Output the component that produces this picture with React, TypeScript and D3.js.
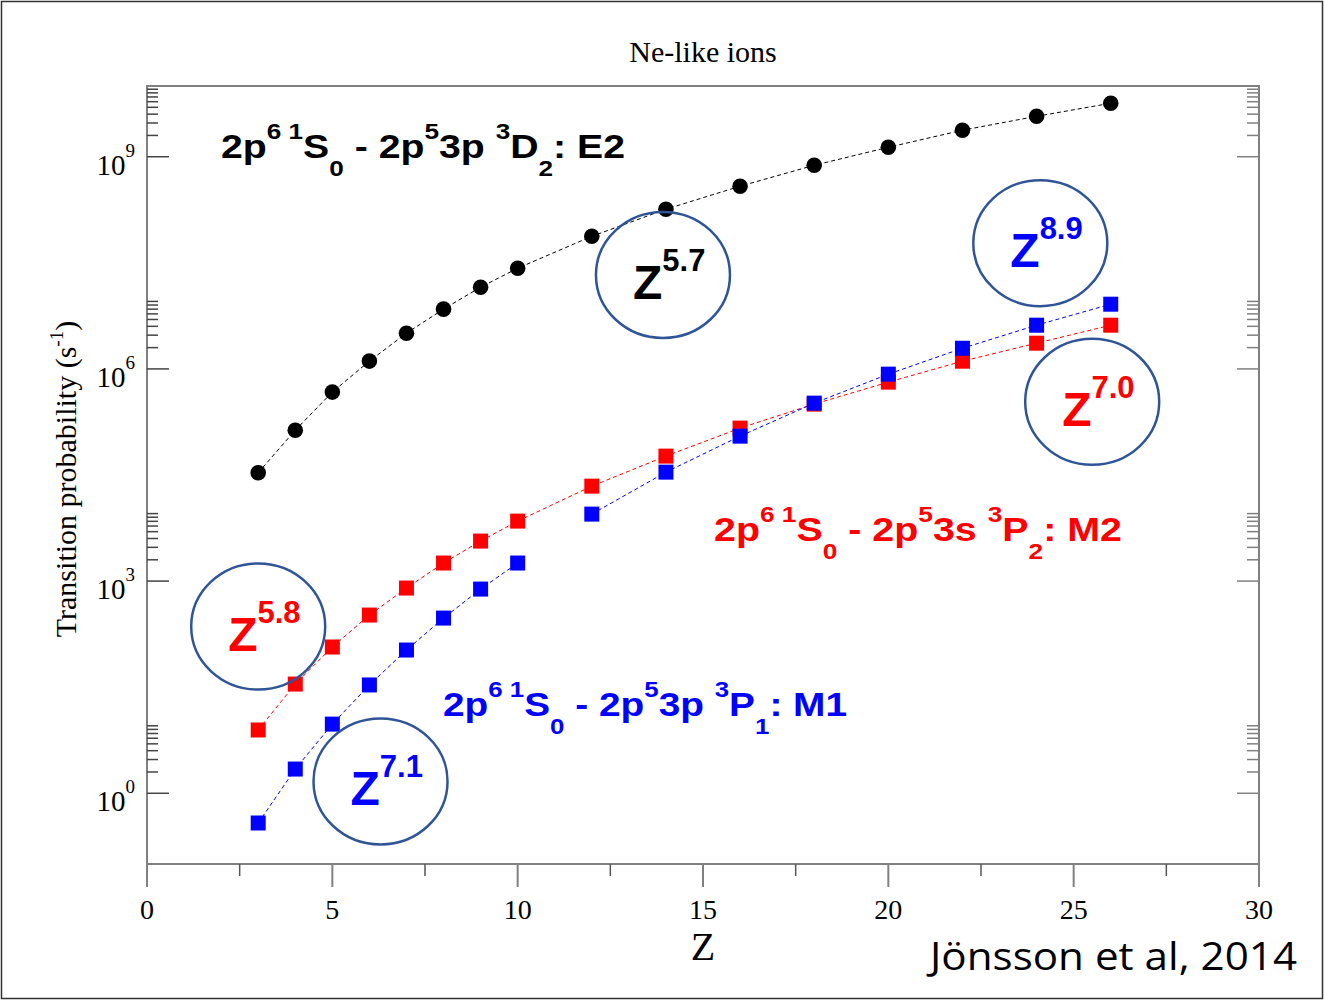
import React from "react";
import * as d3 from "d3";

// Nuclear charge Z of the Ne-like ions
const zValues = [3, 4, 5, 6, 7, 8, 9, 10, 12, 14, 16, 18, 20, 22, 24, 26];

// Transition probabilities (s^-1)
const e2Values = [3.4e4, 1.36e5, 4.7e5, 1.29e6, 3.2e6, 7.0e6, 1.43e7, 2.65e7, 7.5e7, 1.81e8, 3.83e8, 7.57e8, 1.36e9, 2.37e9, 3.73e9, 5.7e9];
const m2Values = [7.85, 35, 117, 331, 797, 1.8e3, 3.68e3, 7.05e3, 2.2e4, 5.85e4, 1.455e5, 3.18e5, 6.5e5, 1.285e6, 2.31e6, 4.15e6];
const m1Values = [0.38, 2.2, 9.5, 34, 106, 300, 771, 1.8e3, 8.85e3, 3.47e4, 1.12e5, 3.28e5, 8.43e5, 1.96e6, 4.15e6, 8.22e6];

const xTicks = [0, 5, 10, 15, 20, 25, 30];
const xMinorTicks = [2.5, 7.5, 12.5, 17.5, 22.5, 27.5];
const yMajorExponents = [0, 3, 6, 9];

type Part = [string, "n" | "u" | "d"];

const e2Label: Part[] = [["2p", "n"], ["6 1", "u"], ["S", "n"], ["0", "d"], [" - 2p", "n"], ["5", "u"], ["3p ", "n"], ["3", "u"], ["D", "n"], ["2", "d"], [": E2", "n"]];
const m2Label: Part[] = [["2p", "n"], ["6 1", "u"], ["S", "n"], ["0", "d"], [" - 2p", "n"], ["5", "u"], ["3s ", "n"], ["3", "u"], ["P", "n"], ["2", "d"], [": M2", "n"]];
const m1Label: Part[] = [["2p", "n"], ["6 1", "u"], ["S", "n"], ["0", "d"], [" - 2p", "n"], ["5", "u"], ["3p ", "n"], ["3", "u"], ["P", "n"], ["1", "d"], [": M1", "n"]];

// Power-law scaling annotations placed at (Z, probability)
const scalings: { z: number; v: number; exp: string; color: string }[] = [
  { z: 13.92, v: 2.13e7, exp: "5.7", color: "#000000" },
  { z: 24.1, v: 6.0e7, exp: "8.9", color: "#0000ff" },
  { z: 25.5, v: 3.43e5, exp: "7.0", color: "#ff0000" },
  { z: 3.0, v: 228, exp: "5.8", color: "#ff0000" },
  { z: 6.3, v: 1.47, exp: "7.1", color: "#0000ff" },
];

const W = 1325;
const H = 1001;
const left = 147;
const right = 1259;
const top = 86;
const bottom = 864;

const x = d3.scaleLinear().domain([0, 30]).range([left, right]);
const y = d3.scaleLog().domain([0.1, 1e10]).range([bottom, top]);

const serif = "'Liberation Serif', 'Times New Roman', serif";
const sans = "'Liberation Sans', Arial, sans-serif";

function Rich({ px, py, parts, fill, width }: { px: number; py: number; parts: Part[]; fill: string; width: number }) {
  const up = -19;
  const down = 18;
  let offset = 0;
  return (
    <text
      x={px}
      y={py}
      fill={fill}
      fontFamily={sans}
      fontWeight="bold"
      fontSize={33}
      style={{ whiteSpace: "pre" }}
      textLength={width}
      lengthAdjust="spacingAndGlyphs"
    >
      {parts.map(([t, k], i) => {
        const target = k === "u" ? up : k === "d" ? down : 0;
        const dy = target - offset;
        offset = target;
        return (
          <tspan key={i} dy={dy} fontSize={k === "n" ? 33 : 22}>
            {t}
          </tspan>
        );
      })}
    </text>
  );
}

export default function App() {
  const pts = (vals: number[]) => zValues.map((z, i) => ({ z, v: vals[i] }));
  const line = d3
    .line<{ z: number; v: number }>()
    .x((d) => x(d.z))
    .y((d) => y(d.v));

  const e2 = pts(e2Values);
  const m2 = pts(m2Values);
  const m1 = pts(m1Values);
  const m1a = m1.filter((d) => d.z <= 10);
  const m1b = m1.filter((d) => d.z >= 12);

  const minorY: number[] = [];
  yMajorExponents.forEach((e) => {
    for (let m = 2; m <= 9; m++) minorY.push(m * Math.pow(10, e));
  });

  const axisColor = "#808080";
  const sq = 15;

  return (
    <svg width={W} height={H} style={{ position: "absolute", left: 0, top: 0, background: "#fff" }}>
      <rect x={0} y={0} width={W} height={H} fill="#fff" />
      <rect x={1.5} y={1.5} width={W - 4} height={H - 4} fill="none" stroke="#333" strokeWidth={1.5} />

      {/* title */}
      <text x={703} y={62} textAnchor="middle" fontFamily={serif} fontSize={30} fill="#000">
        Ne-like ions
      </text>

      {/* plot frame */}
      <rect x={left} y={top} width={right - left} height={bottom - top} fill="none" stroke={axisColor} strokeWidth={2} />

      {/* x ticks */}
      {xTicks.map((t) => (
        <g key={"xt" + t}>
          <line x1={x(t)} x2={x(t)} y1={bottom} y2={bottom + 23} stroke={axisColor} strokeWidth={2} />
          <text x={x(t)} y={918.5} textAnchor="middle" fontFamily={serif} fontSize={28} fill="#000">
            {t}
          </text>
        </g>
      ))}
      {xMinorTicks.map((t) => (
        <line key={"xm" + t} x1={x(t)} x2={x(t)} y1={bottom} y2={bottom + 12} stroke="#555" strokeWidth={1.5} />
      ))}

      {/* y ticks */}
      {yMajorExponents.map((e) => {
        const yy = y(Math.pow(10, e));
        return (
          <g key={"yt" + e}>
            <line x1={left} x2={left + 22} y1={yy} y2={yy} stroke="#444" strokeWidth={1.5} />
            <line x1={right} x2={right - 22} y1={yy} y2={yy} stroke={axisColor} strokeWidth={1.5} />
            <text x={135} y={yy + 18} textAnchor="end" fontFamily={serif} fontSize={29} fill="#000">
              10
              <tspan dy={-18} fontSize={19}>
                {e}
              </tspan>
            </text>
          </g>
        );
      })}
      {minorY.map((v, i) => (
        <g key={"ym" + i}>
          <line x1={left} x2={left + 11} y1={y(v)} y2={y(v)} stroke="#444" strokeWidth={1.5} />
          <line x1={right} x2={right - 12} y1={y(v)} y2={y(v)} stroke={axisColor} strokeWidth={1.5} />
        </g>
      ))}

      {/* axis titles */}
      <text x={703} y={960} textAnchor="middle" fontFamily={serif} fontSize={40} fill="#000">
        Z
      </text>
      <text
        transform={`translate(76,479) rotate(-90)`}
        textAnchor="middle"
        fontFamily={serif}
        fontSize={30}
        fill="#000"
      >
        Transition probability (s
        <tspan dy={-13} fontSize={19}>
          -1
        </tspan>
        <tspan dy={13}>)</tspan>
      </text>

      {/* series lines */}
      <path d={line(e2) || ""} fill="none" stroke="#000" strokeWidth={1} strokeDasharray="4,3" />
      <path d={line(m2) || ""} fill="none" stroke="#ff0000" strokeWidth={1} strokeDasharray="4,3" />
      <path d={line(m1a) || ""} fill="none" stroke="#0000ff" strokeWidth={1} strokeDasharray="4,3" />
      <path d={line(m1b) || ""} fill="none" stroke="#0000ff" strokeWidth={1} strokeDasharray="4,3" />

      {/* markers */}
      {e2.map((d) => (
        <circle key={"e" + d.z} cx={x(d.z)} cy={y(d.v)} r={7.8} fill="#000" />
      ))}
      {m2.map((d) => (
        <rect key={"r" + d.z} x={x(d.z) - sq / 2} y={y(d.v) - sq / 2} width={sq} height={sq} fill="#ff0000" />
      ))}
      {m1.map((d) => (
        <rect key={"b" + d.z} x={x(d.z) - sq / 2} y={y(d.v) - sq / 2} width={sq} height={sq} fill="#0000ff" />
      ))}

      {/* transition labels */}
      <Rich px={221} py={158} parts={e2Label} fill="#000" width={404} />
      <Rich px={714} py={541} parts={m2Label} fill="#ff0000" width={408} />
      <Rich px={443} py={716} parts={m1Label} fill="#0000ff" width={404} />

      {/* Z^n scaling annotations */}
      {scalings.map((s, i) => {
        const cx = x(s.z);
        const cy = y(s.v);
        return (
          <g key={"s" + i}>
            <ellipse cx={cx} cy={cy} rx={67} ry={63} fill="none" stroke="#2f5597" strokeWidth={2.5} />
            <text x={cx - 30} y={cy + 24} fontFamily={sans} fontWeight="bold" fontSize={48} fill={s.color}>
              Z
              <tspan dy={-28} fontSize={31}>
                {s.exp}
              </tspan>
            </text>
          </g>
        );
      })}

      {/* citation */}
      <text x={930} y={970} fontFamily="'Open Sans', Lato, sans-serif" fontSize={38} fill="#000" textLength={367} lengthAdjust="spacingAndGlyphs">
        Jönsson et al, 2014
      </text>
    </svg>
  );
}
